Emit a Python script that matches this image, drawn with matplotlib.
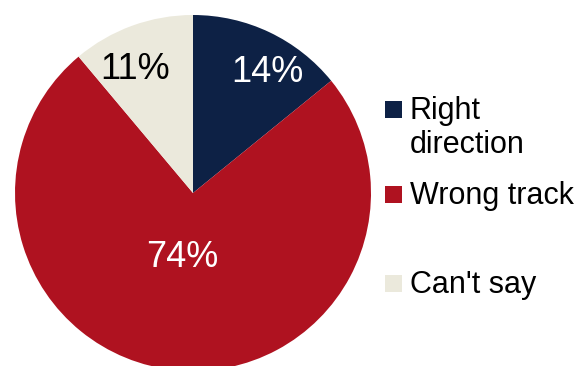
import numpy as np
import matplotlib
matplotlib.use("Agg")
import matplotlib.pyplot as plt
from matplotlib.patches import Rectangle

plt.rcParams['font.family'] = ['Liberation Sans', 'DejaVu Sans']

categories = ["Right\ndirection", "Wrong track", "Can't say"]
values = [14, 74, 11]
colors = ["#0D2145", "#AF1220", "#EBE9DC"]
label_colors = ["white", "white", "black"]
label_dist = [0.794, 0.366, 0.764]      # radial position of each % label
label_turn = [-6.4, -4.4, 5.0]          # angular nudge (degrees) from slice middle
legend_baseline = [119, 204, 293]       # pixel rows of legend text baselines
line_step = 34                          # pixel step between wrapped legend lines

W, H = 585, 366
fig = plt.figure(figsize=(W / 100, H / 100), dpi=100)

cx, cy, r = 193, 193, 178
ax = fig.add_axes([(cx - r) / W, (H - cy - r) / H, 2 * r / W, 2 * r / H])
wedges, _ = ax.pie(values, colors=colors, startangle=90, counterclock=False,
                   radius=1.0, wedgeprops=dict(linewidth=0))
ax.set_xlim(-1, 1)
ax.set_ylim(-1, 1)
ax.set_aspect("equal")
ax.axis("off")

for w, v, d, turn, c in zip(wedges, values, label_dist, label_turn, label_colors):
    ang = np.deg2rad((w.theta1 + w.theta2) / 2 + turn)
    ax.text(d * np.cos(ang), d * np.sin(ang), f"{v}%", ha="center", va="center",
            color=c, fontsize=26)

sq = 17
for lab, col, yb in zip(categories, colors, legend_baseline):
    fig.patches.append(Rectangle((385 / W, (H - yb + 1) / H), sq / W, sq / H,
                                 transform=fig.transFigure, facecolor=col,
                                 edgecolor="none"))
    for i, line in enumerate(lab.split("\n")):
        fig.text(410 / W, (H - yb - i * line_step) / H, line, ha="left",
                 va="baseline", fontsize=22, color="black")

fig.savefig("out.png", dpi=100)
